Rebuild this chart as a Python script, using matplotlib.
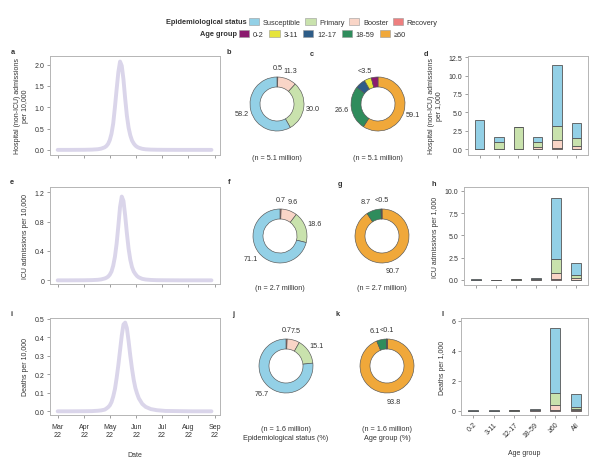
import matplotlib
matplotlib.use("Agg")
import matplotlib.pyplot as plt
import matplotlib.dates as mdates
from matplotlib.patches import Patch
import numpy as np
import pandas as pd

plt.rcParams["font.family"] = ["Liberation Sans", "DejaVu Sans"]
plt.rcParams["font.size"] = 5
plt.rcParams["text.color"] = "#333333"
plt.rcParams["axes.labelcolor"] = "#333333"
plt.rcParams["xtick.color"] = "#777777"
plt.rcParams["ytick.color"] = "#777777"
plt.rcParams["xtick.labelcolor"] = "#333333"
plt.rcParams["ytick.labelcolor"] = "#333333"

# ---- data ----
curve_dates = ["2022-03-01", "2022-03-15", "2022-04-01", "2022-04-10", "2022-04-17",
               "2022-04-21", "2022-04-25", "2022-04-27", "2022-04-29", "2022-05-01",
               "2022-05-03", "2022-05-05", "2022-05-07", "2022-05-09", "2022-05-11",
               "2022-05-13", "2022-05-15", "2022-05-17", "2022-05-19", "2022-05-21",
               "2022-05-23", "2022-05-25", "2022-05-27", "2022-05-29", "2022-05-31",
               "2022-06-02", "2022-06-04", "2022-06-08", "2022-06-12", "2022-06-18",
               "2022-06-25", "2022-07-05", "2022-07-20", "2022-08-05", "2022-08-28"]
hosp_curve = [0.0, 0.0, 0.002, 0.006, 0.015, 0.03, 0.06, 0.09, 0.14, 0.23,
              0.38, 0.62, 1.0, 1.42, 1.82, 2.07, 1.97, 1.65, 1.2, 0.8,
              0.52, 0.34, 0.22, 0.15, 0.1, 0.07, 0.05, 0.025, 0.013, 0.006,
              0.003, 0.001, 0.0, 0.0, 0.0]
icu_curve = [0.0, 0.0, 0.001, 0.003, 0.007, 0.013, 0.025, 0.035, 0.05, 0.077,
             0.12, 0.2, 0.32, 0.5, 0.74, 1.0, 1.14, 1.08, 0.88, 0.64,
             0.43, 0.28, 0.18, 0.12, 0.085, 0.057, 0.04, 0.02, 0.011, 0.005,
             0.002, 0.001, 0.0, 0.0, 0.0]
death_curve = [0.0, 0.0, 0.0005, 0.001, 0.003, 0.005, 0.009, 0.015, 0.022, 0.032,
               0.05, 0.08, 0.12, 0.18, 0.25, 0.33, 0.41, 0.47, 0.48, 0.45,
               0.38, 0.3, 0.23, 0.17, 0.125, 0.095, 0.07, 0.04, 0.024, 0.012,
               0.006, 0.002, 0.001, 0.0, 0.0]

status_names = ["Susceptible", "Primary", "Booster", "Recovery"]
age_names = ["0-2", "3-11", "12-17", "18-59", "\u226560"]
bar_groups = ["0-2", "3-11", "12-17", "18-59", "\u226560", "All"]

hosp_recovery = [0.0, 0.0, 0.0, 0.02, 0.1, 0.02]
hosp_booster = [0.0, 0.0, 0.0, 0.3, 1.1, 0.4]
hosp_primary = [0.0, 1.0, 3.0, 0.7, 1.9, 1.08]
hosp_susceptible = [4.0, 0.6, 0.0, 0.6, 8.3, 2.1]

icu_recovery = [0.0, 0.0, 0.0, 0.01, 0.1, 0.013]
icu_booster = [0.0, 0.0, 0.0, 0.03, 0.7, 0.18]
icu_primary = [0.0, 0.0, 0.03, 0.08, 1.55, 0.35]
icu_susceptible = [0.03, 0.02, 0.05, 0.12, 6.85, 1.35]

death_recovery = [0.0, 0.0, 0.0, 0.005, 0.05, 0.008]
death_booster = [0.0, 0.0, 0.0, 0.01, 0.35, 0.083]
death_primary = [0.0, 0.0, 0.005, 0.02, 0.75, 0.166]
death_susceptible = [0.01, 0.01, 0.005, 0.05, 4.35, 0.843]

# status shares, clockwise from top: Recovery, Booster, Primary, Susceptible
hosp_status = [0.5, 11.3, 30.0, 58.2]
icu_status = [0.7, 9.6, 18.6, 71.1]
death_status = [0.7, 7.5, 15.1, 76.7]
# age shares, clockwise from top: >=60, 18-59, 12-17, 3-11, 0-2
hosp_age = [59.1, 26.6, 6.0, 4.3, 4.0]
icu_age = [90.7, 8.7, 0.3, 0.15, 0.15]
death_age = [93.8, 6.1, 0.05, 0.03, 0.02]
hosp_age_labels = ["59.1", "26.6", "", "<3.5", ""]
icu_age_labels = ["90.7", "8.7", "", "<0.5", ""]
death_age_labels = ["93.8", "6.1", "", "<0.1", ""]

# ---- style ----
status_colors = {"Susceptible": "#93d0e6", "Primary": "#c9e2ad",
                 "Booster": "#f9d5c7", "Recovery": "#ee7f7f"}
age_colors = {"0-2": "#8b1a6e", "3-11": "#e6e43a", "12-17": "#2d5c87",
              "18-59": "#2f8c5c", "\u226560": "#f0a83a"}
spine_col = "#b5b5b5"
edge_col = "#555555"

W, H = 595, 460
fig = plt.figure(figsize=(W / 100, H / 100), dpi=100)


def box(l, t, r, b):
    return [l / W, 1 - b / H, (r - l) / W, (b - t) / H]


def style_axes(ax):
    for s in ax.spines.values():
        s.set_color(spine_col)
        s.set_linewidth(0.7)
    ax.tick_params(length=2, width=0.5, pad=2)


# legend
fig.text(247 / W, 1 - 23 / H, "Epidemiological status", fontweight="bold",
         ha="right", va="center", fontsize=5.3)
fig.legend(handles=[Patch(facecolor=status_colors[n], edgecolor="#999999", lw=0.4, label=n)
                    for n in status_names],
           loc="center left", bbox_to_anchor=(249 / W, 1 - 23 / H), ncol=4, frameon=False,
           fontsize=5.3, handlelength=1.4, handleheight=1.1, handletextpad=0.5,
           columnspacing=0.6, borderpad=0, borderaxespad=0)
fig.text(237 / W, 1 - 35 / H, "Age group", fontweight="bold",
         ha="right", va="center", fontsize=5.3)
fig.legend(handles=[Patch(facecolor=age_colors[n], edgecolor="#999999", lw=0.4, label=n)
                    for n in age_names],
           loc="center left", bbox_to_anchor=(239 / W, 1 - 35 / H), ncol=5, frameon=False,
           fontsize=5.3, handlelength=1.4, handleheight=1.1, handletextpad=0.5,
           columnspacing=0.75, borderpad=0, borderaxespad=0)

# ---- curves (a, e, i) ----
dates = pd.to_datetime(curve_dates)
month_ticks = pd.to_datetime(["2022-03-01", "2022-04-01", "2022-05-01", "2022-06-01",
                              "2022-07-01", "2022-08-01", "2022-09-01"])
curves = [
    (box(50, 57, 220, 156), hosp_curve, (-0.12, 2.2), [0, 0.5, 1.0, 1.5, 2.0],
     ["0.0", "0.5", "1.0", "1.5", "2.0"], "Hospital (non-ICU) admissions\nper 10,000"),
    (box(50, 188, 220, 285), icu_curve, (-0.05, 1.27), [0, 0.4, 0.8, 1.2],
     ["0", "0.4", "0.8", "1.2"], "ICU admissions per 10,000"),
    (box(50, 319, 220, 416), death_curve, (-0.02, 0.505), [0, 0.1, 0.2, 0.3, 0.4, 0.5],
     ["0.0", "0.1", "0.2", "0.3", "0.4", "0.5"], "Deaths per 10,000"),
]
for k, (rect, vals, ylim, yt, ytl, ylab) in enumerate(curves):
    ax = fig.add_axes(rect)
    ax.plot(dates, vals, color="#dad5ea", lw=2.8, solid_capstyle="round")
    ax.set_xlim(pd.Timestamp("2022-02-20"), pd.Timestamp("2022-09-07"))
    ax.set_ylim(*ylim)
    ax.set_yticks(yt)
    ax.set_yticklabels(ytl)
    ax.set_xticks(month_ticks)
    style_axes(ax)
    if k == 2:
        ax.xaxis.set_major_formatter(mdates.DateFormatter("%b\n%y"))
        ax.tick_params(axis="x", pad=4)
        ax.set_xlabel("Date", labelpad=9)
    else:
        ax.set_xticklabels([])
    ax.set_ylabel(ylab, labelpad=4, linespacing=1.2)

# ---- donuts ----


def donut(cx, cy, vals, cols, labels, ha_list, note):
    ax = fig.add_axes(box(cx - 45, cy - 45, cx + 45, cy + 45))
    wedges, _ = ax.pie(vals, colors=cols, startangle=90, counterclock=False, radius=1,
                       wedgeprops=dict(width=0.37, edgecolor=edge_col, linewidth=0.45))
    for w, lab, ha in zip(wedges, labels, ha_list):
        if not lab:
            continue
        th = np.deg2rad((w.theta1 + w.theta2) / 2)
        ax.text(1.35 * np.cos(th), 1.35 * np.sin(th), lab, ha=ha, va="center", fontsize=5.2)
    ax.set_xlim(-1.667, 1.667)
    ax.set_ylim(-1.667, 1.667)
    ax.set_aspect("equal")
    ax.axis("off")
    fig.text(cx / W, 1 - note[1] / H, note[0], ha="center", va="center",
             fontsize=5.2, linespacing=1.4)


st_cols = [status_colors[n] for n in ["Recovery", "Booster", "Primary", "Susceptible"]]
ag_cols = [age_colors[n] for n in ["\u226560", "18-59", "12-17", "3-11", "0-2"]]
c4 = ["center"] * 4
c5 = ["center"] * 5
fmt = lambda v: [f"{x:.1f}" for x in v]

donut(277, 105, hosp_status, st_cols, fmt(hosp_status), c4, ("(n = 5.1 million)", 158))
donut(378, 105, hosp_age, ag_cols, hosp_age_labels, c5, ("(n = 5.1 million)", 158))
donut(280, 237, icu_status, st_cols, fmt(icu_status), c4, ("(n = 2.7 million)", 288))
donut(382, 237, icu_age, ag_cols, icu_age_labels,
      ["center", "right", "center", "center", "center"], ("(n = 2.7 million)", 288))
donut(286, 367, death_status, st_cols, fmt(death_status), c4,
      ("(n = 1.6 million)\nEpidemiological status (%)", 434))
donut(387, 367, death_age, ag_cols, death_age_labels,
      ["center", "right", "center", "center", "center"],
      ("(n = 1.6 million)\nAge group (%)", 434))

# ---- stacked bars (d, h, l) ----
bars = [
    (box(468, 57, 588, 156), [hosp_recovery, hosp_booster, hosp_primary, hosp_susceptible],
     (-0.8, 12.65), [0, 2.5, 5, 7.5, 10, 12.5], ["0.0", "2.5", "5.0", "7.5", "10.0", "12.5"],
     "Hospital (non-ICU) admissions\nper 1,000"),
    (box(464, 188, 588, 286), [icu_recovery, icu_booster, icu_primary, icu_susceptible],
     (-0.6, 10.45), [0, 2.5, 5, 7.5, 10], ["0.0", "2.5", "5.0", "7.5", "10.0"],
     "ICU admissions per 1,000"),
    (box(461, 319, 588, 416), [death_recovery, death_booster, death_primary, death_susceptible],
     (-0.3, 6.2), [0, 2, 4, 6], ["0", "2", "4", "6"], "Deaths per 1,000"),
]
x = np.arange(len(bar_groups))
for k, (rect, layers, ylim, yt, ytl, ylab) in enumerate(bars):
    ax = fig.add_axes(rect)
    bottom = np.zeros(len(bar_groups))
    for name, v in zip(["Recovery", "Booster", "Primary", "Susceptible"], layers):
        ax.bar(x, v, 0.48, bottom=bottom, color=status_colors[name],
               edgecolor=edge_col, linewidth=0.6)
        bottom = bottom + np.array(v)
    ax.set_xlim(-0.6, 5.6)
    ax.set_ylim(*ylim)
    ax.set_yticks(yt)
    ax.set_yticklabels(ytl)
    ax.set_xticks(x)
    style_axes(ax)
    if k == 2:
        ax.set_xticklabels(bar_groups, rotation=45, ha="right", rotation_mode="anchor")
        ax.set_xlabel("Age group", labelpad=8)
    else:
        ax.set_xticklabels([])
    ax.set_ylabel(ylab, labelpad=4, linespacing=1.2)

# panel letters
for lab, px, py in [("a", 13, 53), ("b", 229, 53), ("c", 312, 55), ("d", 426, 55),
                    ("e", 12, 183), ("f", 229, 183), ("g", 340, 185), ("h", 434, 185),
                    ("i", 12, 315), ("j", 233, 315), ("k", 338, 315), ("l", 443, 315)]:
    fig.text(px / W, 1 - py / H, lab, fontweight="bold", fontsize=5.3, ha="center", va="center")

fig.savefig("out.png", dpi=100)
